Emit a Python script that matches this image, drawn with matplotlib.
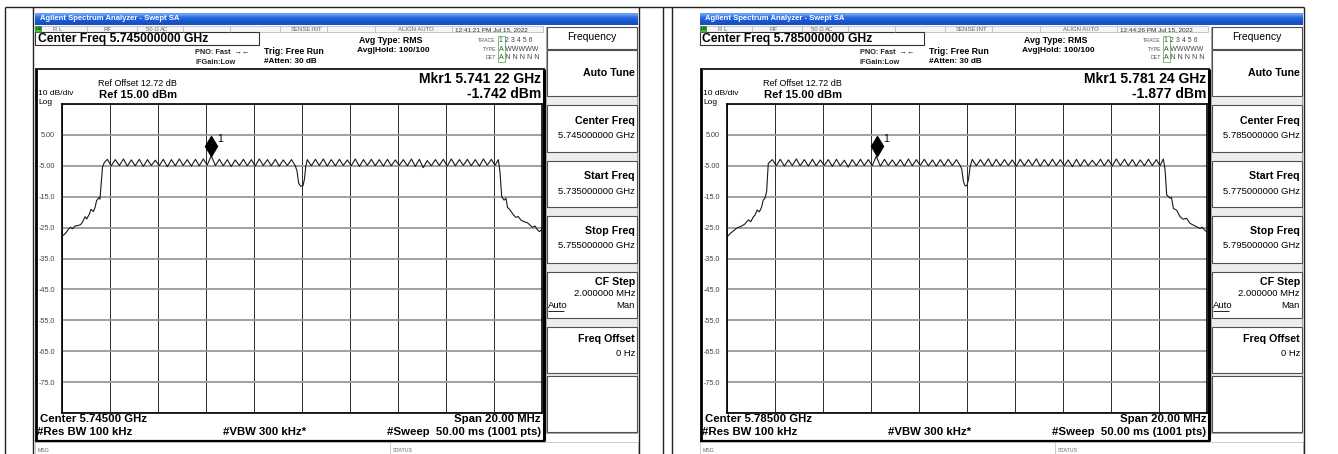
import numpy as np
import matplotlib
matplotlib.use("Agg")
import matplotlib.pyplot as plt
from matplotlib.patches import Rectangle
from matplotlib.transforms import offset_copy

W, H = 1338, 454
plt.rcParams['font.family'] = ['Liberation Sans', 'DejaVu Sans']

# two captures of the same analyzer, one per channel
CENTERS_GHZ = [5.745, 5.785]
STAMPS = ["12:41:21 PM Jul 15, 2022", "12:44:26 PM Jul 15, 2022"]
MKR_GHZ = [5.74122, 5.78124]
MKR_DBM = [-1.742, -1.877]
SPAN_MHZ = 20.0
REF_DBM = 15.0
DB_PER_DIV = 10.0
YTICK_LABELS = ['', '-75.0', '-65.0', '-55.0', '-45.0', '-35.0',
                '-25.0', '-15.0', '-5.00', '5.00', '']

# trace vertices, offsets in MHz from centre
PEAK_OFF = [-8.11, -7.78, -7.44, -7.11, -6.78, -6.44, -6.11, -5.78, -5.44,
            -5.11, -4.78, -4.44, -4.11, -3.78, -3.44, -3.11, -2.78, -2.44,
            -2.11, -1.78, -1.44, -1.11, -0.78, -0.44,
            0.22, 0.56, 0.89, 1.22, 1.56, 1.89, 2.22, 2.56, 2.89, 3.22,
            3.56, 3.89, 4.22, 4.56, 4.89, 5.22, 5.56, 5.89, 6.22, 6.56,
            6.89, 7.22, 7.56, 7.89, 8.18]
TROUGH_OFF = [-7.95, -7.61, -7.28, -6.95, -6.61, -6.28, -5.95, -5.61, -5.28,
              -4.95, -4.61, -4.28, -3.95, -3.61, -3.28, -2.95, -2.61, -2.28,
              -1.95, -1.61, -1.28, -0.95, -0.61,
              0.39, 0.72, 1.05, 1.39, 1.72, 2.05, 2.39, 2.72, 3.05, 3.39,
              3.72, 4.05, 4.39, 4.72, 5.05, 5.39, 5.72, 6.05, 6.39, 6.72,
              7.05, 7.39, 7.72, 8.04]

# left capture (5.745 GHz)
L_EDGE_LO_OFF = [-10.0, -9.90, -9.80, -9.74, -9.64, -9.56, -9.46, -9.32,
                 -9.22, -9.14, -9.04, -8.97, -8.86, -8.79, -8.69, -8.62,
                 -8.56, -8.46, -8.42, -8.37, -8.31, -8.24]
L_EDGE_LO_DBM = [-27.8, -27.2, -26.3, -25.6, -24.9, -25.4, -24.5, -24.3,
                 -24.0, -23.1, -21.5, -22.2, -20.6, -19.1, -19.8, -18.4,
                 -16.3, -15.3, -15.8, -11.2, -5.3, -4.0]
L_PEAK_DBM = [-2.9, -3.0, -2.8, -3.1, -2.9, -3.0, -3.2, -2.9, -3.0, -2.8,
              -3.0, -2.9, -2.8, -1.74, -2.9, -3.0, -3.1, -2.9, -3.0, -2.8,
              -3.0, -2.9, -3.1, -3.0,
              -3.0, -2.9, -2.8, -3.0, -2.9, -3.1, -2.8, -3.0, -2.9, -3.0,
              -2.9, -3.1, -3.0, -2.8, -2.9, -3.3, -3.0, -2.9, -2.8, -3.0,
              -2.9, -3.0, -2.8, -2.9, -3.0]
L_TROUGH_DBM = [-5.0, -4.9, -5.1, -5.0, -5.2, -4.9, -5.0, -5.3, -5.0, -4.9,
                -5.1, -5.0, -4.8, -4.9, -5.0, -5.2, -4.9, -5.0, -5.1, -4.9,
                -5.0, -5.1, -4.9,
                -5.0, -4.9, -5.1, -5.0, -4.9, -5.0, -5.2, -4.9, -5.0, -5.1,
                -5.0, -4.9, -5.0, -5.2, -5.6, -5.0, -4.9, -5.1, -5.0, -4.9,
                -5.0, -5.1, -4.8, -4.9]
L_NOTCH_OFF = [-0.28, -0.21, -0.14, -0.06, 0.04, 0.10, 0.16]
L_NOTCH_DBM = [-5.0, -6.6, -10.6, -11.6, -11.5, -9.4, -5.0]
L_EDGE_HI_OFF = [8.25, 8.32, 8.42, 8.50, 8.56, 8.67, 8.81, 8.92, 9.01, 9.11,
                 9.25, 9.39, 9.50, 9.60, 9.71, 9.80, 9.89, 10.0]
L_EDGE_HI_DBM = [-7.0, -15.0, -16.1, -15.5, -18.4, -19.3, -20.9, -21.7,
                 -21.4, -22.5, -23.1, -23.4, -24.2, -24.9, -24.5, -25.6,
                 -26.3, -25.6]

# right capture (5.785 GHz)
R_EDGE_LO_OFF = [-10.0, -9.85, -9.72, -9.60, -9.39, -9.25, -9.11, -9.01,
                 -8.90, -8.83, -8.74, -8.65, -8.56, -8.49, -8.42, -8.35,
                 -8.28]
R_EDGE_LO_DBM = [-28.0, -26.8, -26.0, -25.2, -24.5, -23.8, -22.5, -23.1,
                 -21.5, -20.9, -19.3, -19.9, -18.4, -16.1, -15.5, -13.4,
                 -4.2]
R_PEAK_DBM = [-3.0, -2.9, -3.1, -2.8, -3.0, -2.9, -3.1, -3.0, -2.9, -3.2,
              -3.0, -2.9, -3.0, -1.88, -2.9, -3.1, -3.0, -2.8, -3.0, -2.9,
              -3.1, -3.0, -2.9, -3.0,
              -2.9, -3.0, -2.8, -2.9, -3.0, -3.1, -2.9, -3.0, -2.8, -3.0,
              -2.9, -3.0, -3.1, -2.9, -3.0, -3.2, -2.9, -3.0, -2.8, -2.9,
              -3.0, -3.1, -2.9, -3.0, -2.8]
R_TROUGH_DBM = [-5.0, -5.1, -4.9, -5.0, -5.1, -5.0, -4.9, -5.2, -5.0, -5.4,
                -5.0, -4.9, -5.0, -5.1, -4.9, -5.0, -5.1, -5.0, -4.9, -5.0,
                -5.1, -5.0, -4.9,
                -5.0, -4.9, -5.1, -5.0, -4.9, -5.2, -5.0, -4.9, -5.1, -5.0,
                -4.9, -5.0, -5.3, -5.1, -5.0, -4.9, -5.0, -5.1, -4.9, -5.0,
                -5.1, -5.0, -4.9, -5.0]
R_NOTCH_OFF = [-0.28, -0.22, -0.15, -0.08, 0.00, 0.07, 0.13]
R_NOTCH_DBM = [-5.0, -6.0, -10.0, -11.5, -11.4, -9.0, -5.3]
R_EDGE_HI_OFF = [8.25, 8.32, 8.46, 8.52, 8.60, 8.74, 8.88, 9.01, 9.15, 9.29,
                 9.43, 9.57, 9.71, 9.80, 9.90, 10.0]
R_EDGE_HI_DBM = [-6.0, -14.4, -15.5, -15.2, -18.8, -19.4, -21.5, -22.3,
                 -22.0, -23.6, -24.2, -24.7, -25.3, -24.9, -25.8, -26.4]

TRACES = [
    (L_EDGE_LO_OFF, L_EDGE_LO_DBM, L_PEAK_DBM, L_TROUGH_DBM,
     L_NOTCH_OFF, L_NOTCH_DBM, L_EDGE_HI_OFF, L_EDGE_HI_DBM),
    (R_EDGE_LO_OFF, R_EDGE_LO_DBM, R_PEAK_DBM, R_TROUGH_DBM,
     R_NOTCH_OFF, R_NOTCH_DBM, R_EDGE_HI_OFF, R_EDGE_HI_DBM),
]
SCREEN_DX = [0, 665]

fig = plt.figure(figsize=(W / 100, H / 100), dpi=100)
page = fig.add_axes([0, 0, 1, 1])
page.axis('off')


def line(x0, y0, x1, y1, c='#222222', lw=0.8):
    page.plot([x0, x1], [y0, y1], color=c, lw=lw, solid_capstyle='butt')


def box(x, y, w, h, fc='none', ec='#444444', lw=0.8, z=1):
    page.add_patch(Rectangle((x, y), w, h, facecolor=fc, edgecolor=ec,
                             lw=lw, zorder=z))


def txt(x, y, s, size=6, bold=False, ha='left', c='black', **kw):
    page.text(x, y, s, fontsize=size, fontweight='bold' if bold else 'normal',
              ha=ha, va='center', color=c, **kw)


# document table lines
line(5, 6.5, 1304, 6.5, lw=1.0)
for xv in (5, 33, 639, 663, 672, 1304):
    line(xv, 6.5, xv, H, lw=1.0)

grad = np.array([[[0.40, 0.62, 0.97]], [[0.16, 0.42, 0.88]],
                 [[0.10, 0.35, 0.82]], [[0.09, 0.31, 0.76]]])


def draw_screen(i):
    dx = SCREEN_DX[i]
    c0 = CENTERS_GHZ[i]
    x0 = 35 + dx

    # title bar
    page.imshow(grad, extent=(x0, 638 + dx, 25, 13), aspect='auto',
                interpolation='bilinear', zorder=0)
    txt(x0 + 5, 19, "Agilent Spectrum Analyzer - Swept SA", 5.5, True,
        c='white')

    # status row
    box(x0, 26, 508, 6, fc='#f6f6f6', ec='#b0b0b0', lw=0.5)
    box(x0, 26, 6, 6, fc='#3cbf3c', ec='#2a8a2a', lw=0.5, z=2)
    txt(x0 + 0.5, 29.2, "LXI", 3.0, True, c='#103010', zorder=3)
    for xs in (87, 137, 183, 230, 280, 327, 375, 452):
        line(xs + dx, 26, xs + dx, 32, c='#b0b0b0', lw=0.5)
    for xs, s in ((53, "R L"), (104, "RF"), (146, "50 \u03a9"), (160, "AC"),
                  (291, "SENSE:INT"), (398, "ALIGN AUTO")):
        txt(xs + dx, 29.3, s, 4.3, c='#666666')
    txt(455 + dx, 29.3, STAMPS[i], 4.6, c='#333333')

    # header
    box(x0, 32.3, 224, 12.7, fc='white', ec='#333333', lw=0.8)
    txt(x0 + 2.5, 39, "Center Freq %.9f GHz" % c0, 8.7, True)
    txt(195 + dx, 52.5, "PNO: Fast  \u2192\u2190", 5.3, True, c='#222222')
    txt(195 + dx, 62, "IFGain:Low", 5.3, True, c='#222222')
    txt(264 + dx, 51, "Trig: Free Run", 6.3, True)
    txt(264 + dx, 61.7, "#Atten: 30 dB", 5.9, True)
    txt(359 + dx, 40.7, "Avg Type: RMS", 6.3, True)
    txt(357 + dx, 50.7, "Avg|Hold: 100/100", 6.0, True)
    for yy, lab, val in ((40.5, "TRACE", "1 2 3 4 5 6"),
                         (49.3, "TYPE", "A WWWWW"),
                         (57.7, "DET", "A N N N N N")):
        txt(496 + dx, yy, lab, 3.8, ha='right', c='#555555')
        txt(499 + dx, yy, val, 5.0, c='#444444')
    box(498 + dx, 36, 6.5, 26, ec='#5bbf5b', lw=0.6)

    # screen frame
    line(x0, 69, 545 + dx, 69, c='black', lw=1.2)
    line(x0 + 0.8, 69, x0 + 0.8, 441, c='black', lw=2.0)
    line(543.5 + dx, 69, 543.5 + dx, 441, c='black', lw=2.2)
    line(x0, 440.5, 545 + dx, 440.5, c='black', lw=1.6)

    txt(541 + dx, 79, "Mkr1 %s %s GHz" % (("%.5f" % MKR_GHZ[i])[:5],
                                         ("%.5f" % MKR_GHZ[i])[5:]),
        10, True, ha='right')
    txt(541 + dx, 94, "%.3f dBm" % MKR_DBM[i], 10, True, ha='right')
    txt(98 + dx, 84, "Ref Offset 12.72 dB", 6.5)
    txt(99 + dx, 94.5, "Ref %.2f dBm" % REF_DBM, 8.1, True)
    txt(38 + dx, 93.6, "10 dB/div", 6.0)
    txt(38 + dx, 102.2, "Log", 6.0)

    txt(40 + dx, 419.5, "Center %.5f GHz" % c0, 8.2, True)
    txt(541 + dx, 419.5, "Span %.2f MHz" % SPAN_MHZ, 8.2, True, ha='right')
    txt(37 + dx, 432, "#Res BW 100 kHz", 8.2, True)
    txt(223 + dx, 432, "#VBW 300 kHz*", 8.2, True)
    txt(541 + dx, 432, "#Sweep  50.00 ms (1001 pts)", 8.2, True, ha='right')

    # message/status bar
    box(x0, 442, 603, 12, fc='white', ec='#c0c0c0', lw=0.6)
    line(390 + dx, 442, 390 + dx, 454, c='#c0c0c0', lw=0.6)
    txt(38 + dx, 450, "MSG", 3.8, c='#666666')
    txt(393 + dx, 450, "STATUS", 3.8, c='#666666')

    # softkey panel
    box(546 + dx, 27, 91, 406, fc='#ececec', ec='#9a9a9a', lw=0.6, z=0)
    for y0k, y1k in ((27, 49), (50, 96), (105, 152), (161, 207), (216, 263),
                     (272, 318), (327, 373), (376, 432)):
        box(546.5 + dx, y0k, 90, y1k - y0k, fc='white', ec='#505050', lw=0.8)
    xr = 635 + dx
    txt(591.5 + dx, 37.5, "Frequency", 7.5, ha='center')
    txt(xr, 73.5, "Auto Tune", 7.7, True, ha='right')
    for yb, name, val in ((121, "Center Freq", c0),
                          (176, "Start Freq", c0 - SPAN_MHZ / 2000),
                          (231, "Stop Freq", c0 + SPAN_MHZ / 2000)):
        txt(xr, yb, name, 7.7, True, ha='right')
        txt(xr, yb + 15, "%.9f GHz" % val, 6.8, ha='right')
    txt(xr, 282, "CF Step", 7.7, True, ha='right')
    txt(xr, 294, "2.000000 MHz", 6.8, ha='right')
    txt(548 + dx, 306, "Auto", 6.8)
    line(548 + dx, 310.5, 564 + dx, 310.5, c='black', lw=0.6)
    txt(xr, 306, "Man", 6.8, ha='right')
    txt(xr, 339, "Freq Offset", 7.7, True, ha='right')
    txt(xr, 354, "0 Hz", 6.8, ha='right')

    # spectrum plot
    ax = fig.add_axes([(62 + dx) / W, 1 - 413 / H, 480 / W, 309 / H])
    lo_off, lo_db, pk_db, tr_db, n_off, n_db, hi_off, hi_db = TRACES[i]
    off = np.concatenate([lo_off, PEAK_OFF, TROUGH_OFF, n_off, hi_off])
    lvl = np.concatenate([lo_db, pk_db, tr_db, n_db, hi_db])
    order = np.argsort(off, kind='stable')
    f_ghz = c0 + off[order] / 1000.0
    ax.plot(f_ghz, lvl[order], color='#1a1a1a', lw=0.8)

    half = SPAN_MHZ / 2000.0
    ax.set_xlim(c0 - half, c0 + half)
    ax.set_ylim(REF_DBM - 10 * DB_PER_DIV, REF_DBM)
    ax.set_xticks(np.linspace(c0 - half, c0 + half, 11))
    ax.set_xticklabels([])
    ax.set_yticks(np.arange(REF_DBM - 10 * DB_PER_DIV, REF_DBM + 1,
                            DB_PER_DIV))
    ax.set_yticklabels(YTICK_LABELS)
    ax.tick_params(length=0, labelsize=5.2, labelcolor='#444444', pad=5)
    ax.xaxis.grid(True, color='#2a2a2a', lw=0.7)
    ax.yaxis.grid(True, color='#9a9a9a', lw=1.3)
    ax.set_axisbelow(True)
    for sp in ax.spines.values():
        sp.set_color('black')
        sp.set_linewidth(1.2)
    ax.set_facecolor('white')

    # marker 1
    ax.plot([MKR_GHZ[i]], [MKR_DBM[i]], marker='d', ms=10, color='black',
            transform=offset_copy(ax.transData, fig=fig, x=0, y=10,
                                  units='dots'), clip_on=False)
    ax.text(MKR_GHZ[i], MKR_DBM[i], "1", fontsize=7.5, va='center',
            transform=offset_copy(ax.transData, fig=fig, x=6, y=17,
                                  units='dots'))


for k in range(2):
    draw_screen(k)

page.set_xlim(0, W)
page.set_ylim(H, 0)
fig.savefig("out.png", dpi=100)
